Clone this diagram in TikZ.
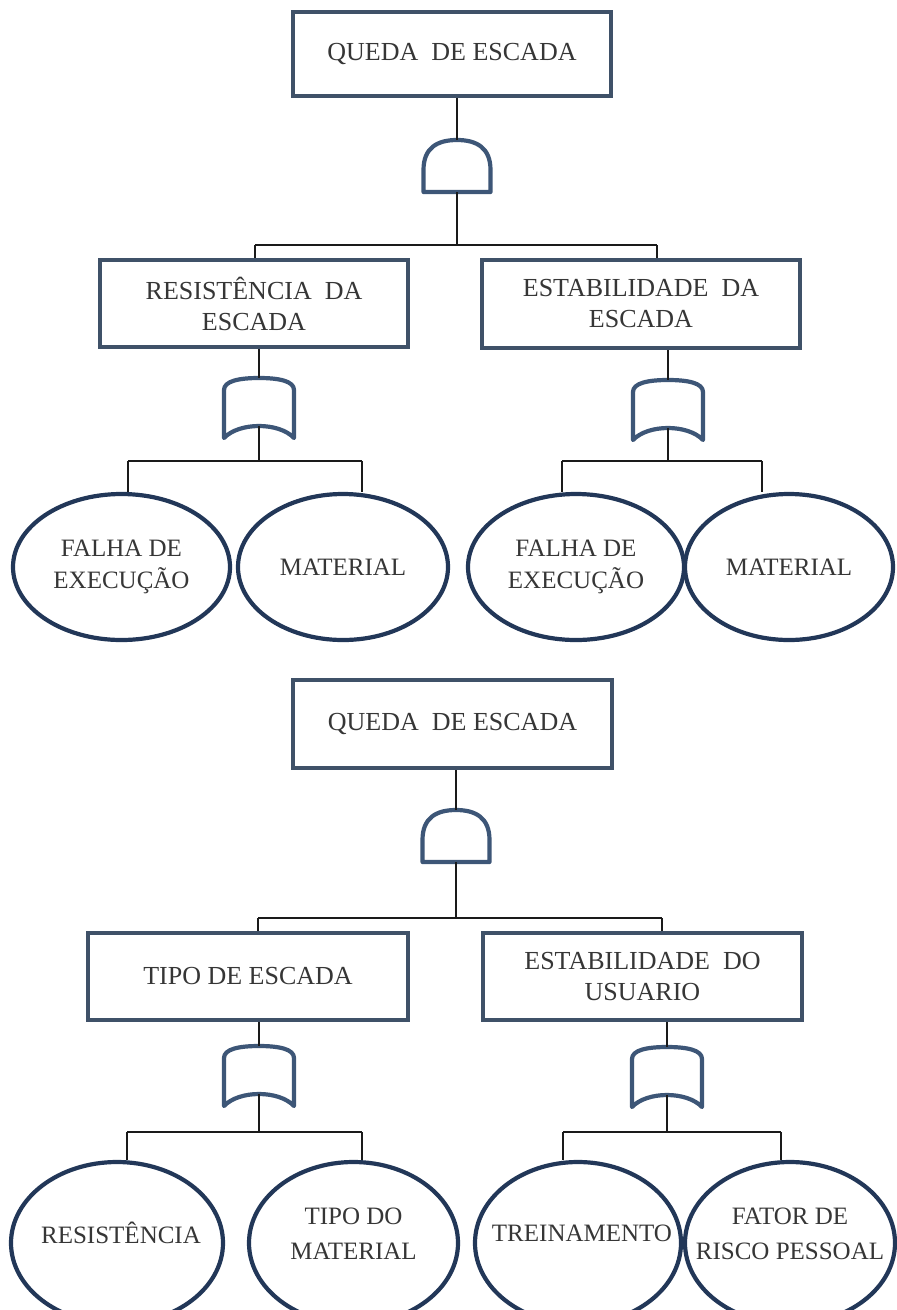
\documentclass[tikz,border=0pt]{standalone}
\usepackage{fontspec}
\setmainfont{Liberation Serif}
\usetikzlibrary{shapes.geometric}

\definecolor{boxline}{HTML}{3F5168}
\definecolor{gateline}{HTML}{3D5677}
\definecolor{ellline}{HTML}{223758}
\definecolor{wirecol}{HTML}{1A1A1A}
\definecolor{txtcol}{HTML}{363636}

\tikzset{
  event/.style={draw=boxline, line width=4.6pt, rectangle, fill=white,
    inner sep=0pt, align=center, text=txtcol,
    font=\fontsize{26}{31}\selectfont},
  basic/.style={draw=ellline, line width=4.2pt, ellipse, fill=white,
    inner sep=0pt, minimum width=214pt, minimum height=146pt,
    align=center, text=txtcol, font=\fontsize{25}{32}\selectfont},
  basictext/.style={align=center, text=txtcol, inner sep=0pt,
    font=\fontsize{25}{35}\selectfont},
  wire/.style={draw=wirecol, line width=2.6pt},
  gatestyle/.style={draw=gateline, line width=4.2pt, line join=round, fill=white},
  % AND gate, origin at the input (top centre)
  andgate/.pic={
    \draw[gatestyle] (-33.5,52) -- (-33.5,30)
      .. controls (-33.5,8) and (-20,0) .. (0,0)
      .. controls (20,0) and (33.5,8) .. (33.5,30) -- (33.5,52) -- cycle;
    \coordinate (-in) at (0,0);
    \coordinate (-out) at (0,52);
  },
  % OR gate, origin at the input (top centre)
  orgate/.pic={
    \draw[gatestyle] (-35,60) -- (-35,12)
      .. controls (-35,3) and (-20,0) .. (0,0)
      .. controls (20,0) and (35,3) .. (35,12) -- (35,60)
      .. controls (20,44) and (-20,44) .. (-35,60) -- cycle;
    \coordinate (-in) at (0,0);
    \coordinate (-out) at (0,48);
  }
}

\begin{document}
\begin{tikzpicture}[x=1pt, y=-1pt]
\useasboundingbox (0,0) rectangle (897,1310);

% ---------------- first tree ----------------
\node[event, minimum width=318pt, minimum height=84pt] (top1) at (452,54) {QUEDA\ \ DE ESCADA};
\pic (and1) at (457,140) {andgate};

\node[event, minimum width=308pt, minimum height=87pt] (res) at (254,303.5) {RESISTÊNCIA\ \ DA\\ESCADA};
\node[event, minimum width=318pt, minimum height=88pt] (est) at (641,304) {ESTABILIDADE\ \ DA\\ESCADA};

\pic (or1) at (259,378) {orgate};
\pic (or2) at (668,380) {orgate};

\node[basic, minimum width=217pt] (fe1) at (121.5,567) {FALHA DE\\EXECUÇÃO};
\node[basic, minimum width=210pt] (ma1) at (343,567) {MATERIAL};
\node[basic, minimum width=216pt] (fe2) at (576,567) {FALHA DE\\EXECUÇÃO};
\node[basic, minimum width=208pt] (ma2) at (789,567) {MATERIAL};

\coordinate (h1l) at (255,245);
\coordinate (h1r) at (657,245);
\coordinate (h2l) at (128,461);
\coordinate (h2r) at (362,461);
\coordinate (h3l) at (562,461);
\coordinate (h3r) at (762,461);

\draw[wire] (top1.south -| and1-in) -- (and1-in);
\draw[wire] (and1-out) -- (and1-out |- h1l);
\draw[wire] (h1l) -- (h1r);
\draw[wire] (h1l) -- (h1l |- res.north);
\draw[wire] (h1r) -- (h1r |- est.north);

\draw[wire] (or1-in |- res.south) -- (or1-in);
\draw[wire] (or1-out) -- (or1-out |- h2l);
\draw[wire] (h2l) -- (h2r);
\draw[wire] (h2l) -- (h2l |- fe1.north);
\draw[wire] (h2r) -- (h2r |- ma1.north);

\draw[wire] (or2-in |- est.south) -- (or2-in);
\draw[wire] (or2-out) -- (or2-out |- h3l);
\draw[wire] (h3l) -- (h3r);
\draw[wire] (h3l) -- (h3l |- fe2.north);
\draw[wire] (h3r) -- (h3r |- ma2.north);

% ---------------- second tree ----------------
\node[event, minimum width=319pt, minimum height=88pt] (top2) at (452.5,724) {QUEDA\ \ DE ESCADA};
\pic (and2) at (456,810) {andgate};

\node[event, minimum width=320pt, minimum height=87pt] (tipo) at (248,976.5) {TIPO DE ESCADA};
\node[event, minimum width=319pt, minimum height=87pt] (usu) at (642.5,976.5) {ESTABILIDADE\ \ DO\\USUARIO};

\pic (or3) at (259,1046) {orgate};
\pic (or4) at (667,1047) {orgate};

% basic events of the second tree: taller outlines, running off the lower edge
\node[basic, minimum width=212pt, minimum height=162pt] (re) at (117,1243) {};
\node[basic, minimum width=209pt, minimum height=162pt] (tm) at (353.5,1243) {};
\node[basic, minimum width=206pt, minimum height=162pt] (tr) at (578,1243) {};
\node[basic, minimum width=210pt, minimum height=162pt] (fr) at (790,1243) {};
\node[basictext] (re-t) at (121,1233) {RESISTÊNCIA};
\node[basictext] (tm-t) at (353.5,1234) {TIPO DO\\MATERIAL};
\node[basictext] (tr-t) at (582,1233) {TREINAMENTO};
\node[basictext] (fr-t) at (790,1234) {FATOR DE\\RISCO PESSOAL};

\coordinate (h4l) at (258,918);
\coordinate (h4r) at (662,918);
\coordinate (h5l) at (127,1132);
\coordinate (h5r) at (362,1132);
\coordinate (h6l) at (563,1132);
\coordinate (h6r) at (781,1132);

\draw[wire] (top2.south -| and2-in) -- (and2-in);
\draw[wire] (and2-out) -- (and2-out |- h4l);
\draw[wire] (h4l) -- (h4r);
\draw[wire] (h4l) -- (h4l |- tipo.north);
\draw[wire] (h4r) -- (h4r |- usu.north);

\draw[wire] (or3-in |- tipo.south) -- (or3-in);
\draw[wire] (or3-out) -- (or3-out |- h5l);
\draw[wire] (h5l) -- (h5r);
\draw[wire] (h5l) -- (h5l |- re.north);
\draw[wire] (h5r) -- (h5r |- tm.north);

\draw[wire] (or4-in |- usu.south) -- (or4-in);
\draw[wire] (or4-out) -- (or4-out |- h6l);
\draw[wire] (h6l) -- (h6r);
\draw[wire] (h6l) -- (h6l |- tr.north);
\draw[wire] (h6r) -- (h6r |- fr.north);
\end{tikzpicture}
\end{document}
